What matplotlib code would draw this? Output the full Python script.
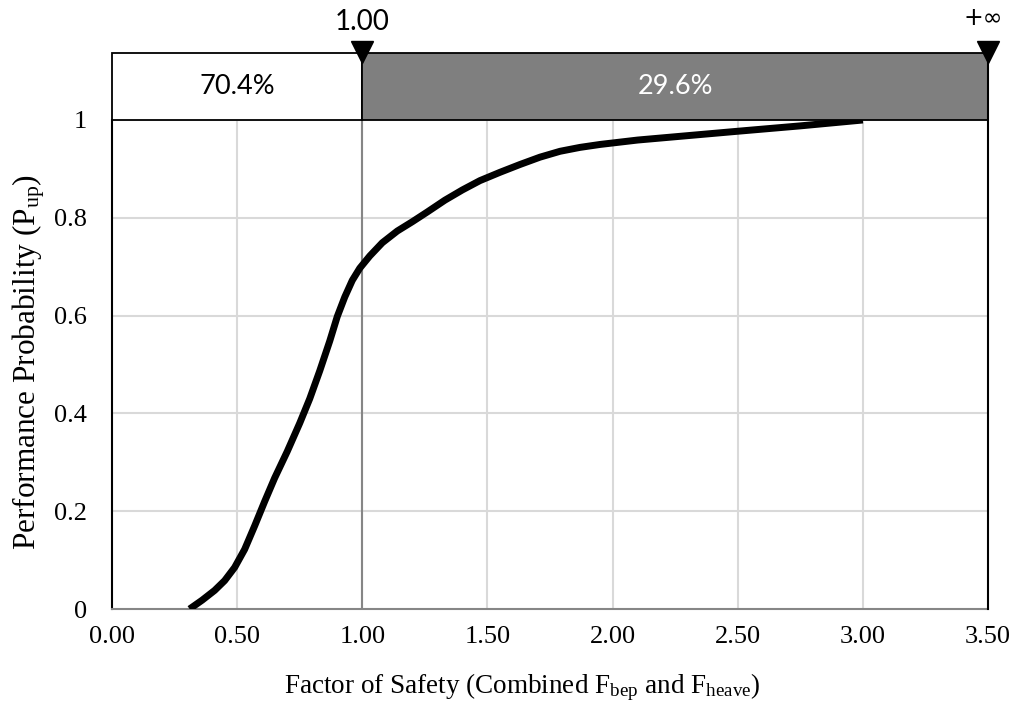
import matplotlib
matplotlib.use("Agg")
import matplotlib.pyplot as plt
from matplotlib.patches import Rectangle

# Cumulative performance probability vs combined factor of safety
fos = [0.31, 0.36, 0.41, 0.45, 0.49, 0.53, 0.57, 0.61, 0.65, 0.70, 0.75,
       0.79, 0.83, 0.87, 0.90, 0.93, 0.96, 0.99, 1.03, 1.08, 1.14, 1.20,
       1.26, 1.33, 1.40, 1.47, 1.55, 1.63, 1.71, 1.79, 1.87, 1.95, 2.10,
       2.30, 2.50, 2.75, 3.00]
p_up = [0.0, 0.018, 0.038, 0.058, 0.085, 0.122, 0.170, 0.220, 0.268, 0.322, 0.380,
        0.430, 0.487, 0.548, 0.598, 0.638, 0.672, 0.697, 0.722, 0.749, 0.773, 0.792,
        0.812, 0.836, 0.857, 0.876, 0.893, 0.909, 0.924, 0.936, 0.944, 0.950, 0.959,
        0.968, 0.977, 0.988, 1.0]

x_ticks = [0.0, 0.5, 1.0, 1.5, 2.0, 2.5, 3.0, 3.5]
y_ticks = [0.0, 0.2, 0.4, 0.6, 0.8, 1.0]
x_ticklabels = ["0.00", "0.50", "1.00", "1.50", "2.00", "2.50", "3.00", "3.50"]
y_ticklabels = ["0", "0.2", "0.4", "0.6", "0.8", "1"]

threshold = 1.0
share_labels = ["70.4%", "29.6%"]
marker_labels = ["1.00", "+\u221e"]

plt.rcParams["mathtext.fontset"] = "custom"
plt.rcParams["mathtext.rm"] = "Liberation Serif"
plt.rcParams["mathtext.it"] = "Liberation Serif:italic"

serif = "Liberation Serif"
sans = ["Lato", "DejaVu Sans"]

fig = plt.figure(figsize=(10.18, 7.09), dpi=100)
ax = fig.add_axes([112 / 1018, 1 - 609 / 709, 876 / 1018, 489 / 709])

ax.set_xlim(0, 3.5)
ax.set_ylim(0, 1)

# grid
for xv in x_ticks[1:-1]:
    ax.axvline(xv, color="#d9d9d9", lw=1.5, zorder=1)
for yv in y_ticks[1:]:
    ax.axhline(yv, color="#d9d9d9", lw=1.5, zorder=1)
ax.axvline(threshold, color="#868686", lw=1.5, zorder=2)

ax.plot(fos, p_up, color="black", lw=5, solid_joinstyle="round",
        solid_capstyle="butt", zorder=4)

ax.set_xticks(x_ticks)
ax.set_xticklabels(x_ticklabels, fontfamily=serif, fontsize=19)
ax.set_yticks(y_ticks)
ax.set_yticklabels(y_ticklabels, fontfamily=serif, fontsize=19)
ax.tick_params(axis="x", length=0, pad=12)
ax.tick_params(axis="y", length=0, pad=18)

for s in ["top", "right"]:
    ax.spines[s].set_visible(False)
ax.spines["left"].set_color("black")
ax.spines["left"].set_linewidth(1.5)
ax.spines["bottom"].set_color("#868686")
ax.spines["bottom"].set_linewidth(1.5)

ax.set_xlabel(r"Factor of Safety (Combined F$_{\mathrm{bep}}$ and F$_{\mathrm{heave}}$)",
              fontfamily=serif, fontsize=19.5)
ax.xaxis.set_label_coords((522 - 112) / 876, -(687 - 609) / 489)
ax.xaxis.label.set_va("center")
ax.set_ylabel(r"Performance Probability (P$_{\mathrm{up}}$)",
              fontfamily=serif, fontsize=22.5)
ax.yaxis.set_label_coords(-(112 - 29) / 876, (609 - 362) / 489)
ax.yaxis.label.set_va("center")

# probability band above the plot
band_h = 67 / 489
x_max = x_ticks[-1]
left_box = Rectangle((0, 1), threshold, band_h, facecolor="white",
                     edgecolor="black", lw=1.3, clip_on=False, zorder=5)
right_box = Rectangle((threshold, 1), x_max - threshold, band_h,
                      facecolor="#7f7f7f", edgecolor="black", lw=1.3,
                      clip_on=False, zorder=5)
ax.add_patch(left_box)
ax.add_patch(right_box)
ax.text(threshold / 2, 1 + band_h / 2, share_labels[0], ha="center", va="center",
        fontfamily=sans, fontsize=19.5, color="black", zorder=6)
ax.text((threshold + x_max) / 2, 1 + band_h / 2, share_labels[1], ha="center",
        va="center", fontfamily=sans, fontsize=19.5, color="white", zorder=6)

# right border line
ax.plot([x_max, x_max], [0, 1 + band_h], color="black", lw=1.5,
        clip_on=False, zorder=6)

# threshold markers
for xv in [threshold, x_max]:
    ax.plot([xv], [1 + band_h + 0.003], marker="v", ms=16, color="black",
            clip_on=False, zorder=7)
ax.text(threshold, 1.200, marker_labels[0], ha="center", va="center",
        fontfamily=sans, fontsize=20, color="black")
ax.text(x_max - 0.02, 1.208, marker_labels[1], ha="center", va="center",
        fontfamily="DejaVu Sans", fontsize=17, color="black")

fig.savefig("out.png", dpi=100)
